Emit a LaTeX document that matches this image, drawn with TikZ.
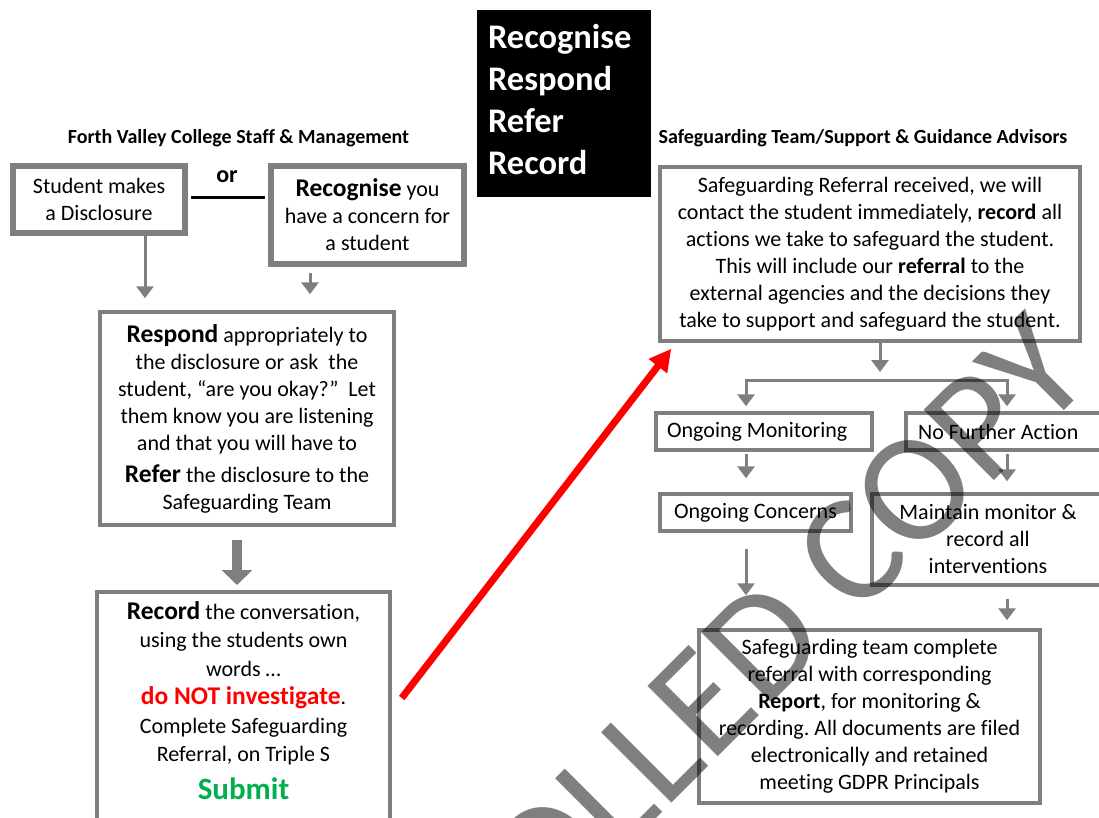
\documentclass[tikz,border=0pt]{standalone}
\usepackage{fontspec}
\setmainfont{Carlito}[Ligatures=NoCommon]
\usetikzlibrary{arrows.meta,calc}
\frenchspacing
\definecolor{boxgray}{RGB}{127,127,127}
\definecolor{okgreen}{RGB}{0,176,80}
\newcommand{\bodysize}{\fontsize{22}{27}\selectfont}
\newcommand{\kw}[1]{{\bfseries\fontsize{25.5}{27}\selectfont #1}}
\tikzset{
  box/.style={draw=boxgray, line width=3.5pt, fill=white, align=center, font=\bodysize, inner sep=0pt},
  heavybox/.style={box, line width=6.5pt},
  garrow/.style={draw=boxgray, line width=3pt, -{Triangle[width=17pt,length=12pt]}},
  garrows/.style={draw=boxgray, line width=3pt, {Triangle[width=17pt,length=12pt]}-{Triangle[width=17pt,length=12pt]}},
  bigarrow/.style={draw=boxgray, line width=10pt, -{Triangle[width=30pt,length=15pt]}},
  redarrow/.style={draw=red, line width=7pt, -{Triangle[width=22pt,length=22pt]}},
  hdr/.style={font=\bfseries\fontsize{20}{24}\selectfont},
}
\begin{document}
\begin{tikzpicture}[x=1pt,y=-1pt]
\useasboundingbox (0,0) rectangle (1099,818);
\clip (0,0) rectangle (1099,818);

\node[hdr] (lefthdr) at (238.5,138) {Forth Valley College Staff \& Management};
\node[hdr] (righthdr) at (863,138) {Safeguarding Team/Support \& Guidance Advisors};
\node[fill=black, minimum width=174pt, minimum height=187pt] (title) at (564,103.5) {};
\node[text=white, text width=152pt, inner sep=0pt, align=left,
      font=\bfseries\fontsize{34.5}{42}\selectfont] (titletext) at ([yshift=4pt]title.center) {Recognise\\Respond\\Refer\\Record};

\node[heavybox, minimum width=172pt, minimum height=67pt] (disc) at (99,199.5) {Student makes\\a Disclosure};
\node[font=\bfseries\fontsize{24}{28}\selectfont] (or) at (227,177) {or};
\node[heavybox, minimum width=193pt, minimum height=98pt] (recog) at (367.5,215) {\kw{Recognise} you\\have a concern for\\a student};
\node[box, minimum width=294pt, minimum height=213pt] (respond) at (247,418.5)
  {\kw{Respond} appropriately to\\the disclosure or ask\ \ the\\student, “are you okay?”\ \ Let\\them know you are listening\\and that you will have to\\[5pt]\kw{Refer} the disclosure to the\\Safeguarding Team};
\node[box, anchor=north, minimum width=293pt, minimum height=260pt, font=\fontsize{22}{28.5}\selectfont] (record) at (243.5,590)
  {\kw{Record} the conversation,\\using the students own\\words …\\{\color{red}\kw{do NOT investigate}}.\\Complete Safeguarding\\Referral, on Triple S\\[9pt]{\color{okgreen}\bfseries\fontsize{31}{36}\selectfont Submit}\\\rule{0pt}{42pt}};

\node[box, minimum width=420pt, minimum height=174pt] (received) at (870,254)
  {Safeguarding Referral received, we will\\contact the student immediately, \textbf{record} all\\actions we take to safeguard the student.\\This will include our \textbf{referral} to the\\external agencies and the decisions they\\take to support and safeguard the student.};
\node[box, anchor=west, minimum width=216pt, minimum height=37pt] (monitor) at (654,431.5) {Ongoing Monitoring\hspace*{13pt}};
\node[box, anchor=west, minimum width=210pt, minimum height=37pt] (nfa) at (904,431.5) {No Further Action\hspace*{25pt}};
\node[box, minimum width=191pt, minimum height=37pt] (concerns) at (755.5,512.5) {Ongoing Concerns};
\node[box, minimum width=232pt, minimum height=91pt] (maintain) at (988,539.5) {Maintain monitor \&\\record all\\interventions};
\node[box, minimum width=341pt, minimum height=173pt] (report) at (869.5,716.5)
  {Safeguarding team complete\\referral with corresponding\\\textbf{Report}, for monitoring \&\\recording. All documents are filed\\electronically and retained\\meeting GDPR Principals};

\coordinate (fork) at (880,380);
\coordinate (forkL) at (746,380);
\coordinate (forkR) at (1007,380);

\draw[line width=3pt, shorten <=3pt, shorten >=3pt] ([yshift=1.5pt]disc.east) -- ([yshift=1.5pt]disc.east -| recog.west);
\draw[garrow, shorten >=12pt] ([xshift=46pt]disc.south) -- ([xshift=46pt]disc.south |- respond.north);
\draw[garrow, shorten <=6pt, shorten >=16pt] ([xshift=-57.5pt]recog.south) -- ([xshift=-57.5pt]recog.south |- respond.north);
\draw[bigarrow, shorten <=13pt, shorten >=5pt] ([xshift=-10pt]respond.south) -- ([xshift=-10pt]respond.south |- record.north);
\draw[redarrow] ([shift={(10,108)}]record.north east) -- ([shift={(13,6)}]received.south west);

\draw[garrow, shorten >=8pt] ([xshift=10pt]received.south) -- (fork);
\draw[garrows, shorten >=5pt, shorten <=5pt] (forkL |- monitor.north) -- (forkL) -- (forkR) -- (forkR |- nfa.north);
\draw[garrow, shorten <=2pt, shorten >=14pt] (forkL |- monitor.south) -- (forkL |- concerns.north);
\draw[garrow, shorten <=2pt, shorten >=11pt] (forkR |- nfa.south) -- (forkR |- maintain.north);
\draw[garrow, shorten <=16pt, shorten >=33pt] (forkL |- concerns.south) -- (forkL |- report.north);
\draw[garrow, shorten <=12pt, shorten >=8pt] (forkR |- maintain.south) -- (forkR |- report.north);

\node[rotate=45, anchor=base, text=black, text opacity=0.5, font=\fontsize{155}{155}\selectfont] (stamp) at (594,881) {UNCONTROLLED COPY};
\end{tikzpicture}
\end{document}
